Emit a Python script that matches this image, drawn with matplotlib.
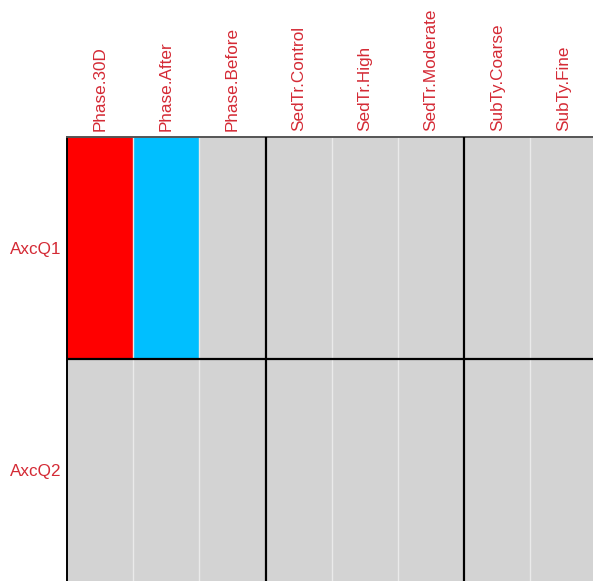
import numpy as np
import matplotlib
matplotlib.use("Agg")
import matplotlib.pyplot as plt
from matplotlib.colors import ListedColormap, BoundaryNorm

plt.rcParams['font.family'] = ['Liberation Sans', 'DejaVu Sans']

# Factor levels (columns) and response rows
columns = ["Phase.30D", "Phase.After", "Phase.Before",
           "SedTr.Control", "SedTr.High", "SedTr.Moderate",
           "SubTy.Coarse", "SubTy.Fine"]
rows = ["AxcQ1", "AxcQ2"]

# Association sign per cell: 1 = positive, -1 = negative, 0 = none
assoc_AxcQ1 = [1, -1, 0, 0, 0, 0, 0, 0]
assoc_AxcQ2 = [0, 0, 0, 0, 0, 0, 0, 0]

label_color = "#D42A35"
cell_colors = ["#00BFFF", "#D3D3D3", "#FF0000"]

values = np.array([assoc_AxcQ1, assoc_AxcQ2])

fig = plt.figure(figsize=(5.93, 5.81), dpi=100)
W, H = 593, 581
left, top, cw, rh = 67, 137, 66.2, 222
ax = fig.add_axes([left / W, (H - top - 2 * rh) / H,
                   len(columns) * cw / W, 2 * rh / H])

cmap = ListedColormap(cell_colors)
norm = BoundaryNorm([-1.5, -0.5, 0.5, 1.5], cmap.N)
ax.pcolormesh(np.arange(len(columns) + 1), np.arange(len(rows) + 1), values,
              cmap=cmap, norm=norm, edgecolors="none")
ax.set_xlim(0, len(columns))
ax.set_ylim(len(rows), 0)

# thin separators inside each cell block
for x in range(1, len(columns)):
    ax.axvline(x, color="#EAEAEA", lw=1.0, zorder=2)

# bold separators between factor groups and between rows
prefixes = [c.split(".")[0] for c in columns]
for i in range(1, len(columns)):
    if prefixes[i] != prefixes[i - 1]:
        ax.axvline(i, color="black", lw=1.6, zorder=3)
for j in range(1, len(rows)):
    ax.axhline(j, color="black", lw=1.6, zorder=3)

for side in ["right", "bottom"]:
    ax.spines[side].set_visible(False)
ax.spines["left"].set_color("black")
ax.spines["left"].set_linewidth(1.4)
ax.spines["top"].set_color("#555555")
ax.spines["top"].set_linewidth(1.4)

ax.xaxis.tick_top()
ax.set_xticks(np.arange(len(columns)) + 0.5)
ax.set_xticklabels(columns, rotation=90, color=label_color, fontsize=12.3)
ax.set_yticks(np.arange(len(rows)) + 0.5)
ax.set_yticklabels(rows, color=label_color, fontsize=12.3)
ax.tick_params(axis="both", length=0, pad=4)

fig.savefig("out.png", dpi=100, facecolor="white")
